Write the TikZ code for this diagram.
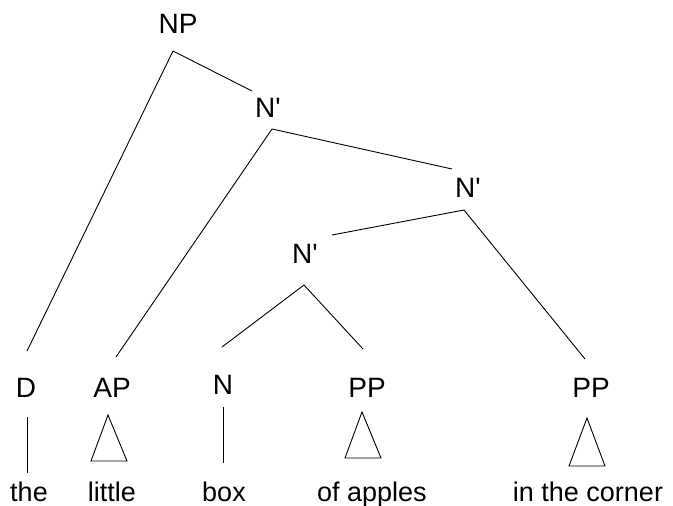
\documentclass[tikz,border=0pt]{standalone}
\usepackage{fontspec}
\setmainfont{Liberation Sans}
\usepackage{tikz}
\usetikzlibrary{positioning}

\begin{document}
\begin{tikzpicture}[
    x=1pt, y=-1pt,
    cat/.style={inner sep=0pt, anchor=base, font=\fontsize{28}{33}\selectfont},
    word/.style={inner sep=0pt, anchor=base, font=\fontsize{27}{32}\selectfont},
    branch/.style={line width=0.9pt},
    roof/.style={line width=0.9pt, line join=miter}
]
\useasboundingbox (0,0) rectangle (673,506);
% phrase labels
\node[cat] (np) at (178,34) {NP};
\node[cat] (nb1) at (268,117) {N\textquotesingle};
\node[cat] (nb2) at (468,197) {N\textquotesingle};
\node[cat] (nb3) at (305,263) {N\textquotesingle};
\node[cat] (d) at (26,397) {D};
\node[cat] (ap) at (112,397) {AP};
\node[cat] (n) at (223,394) {N};
\node[cat] (pp1) at (367,397) {PP};
\node[cat] (pp2) at (591,397) {PP};
% words
\node[word] (the) at (29,501) {the};
\node[word] (little) at (112,501) {little};
\node[word] (box) at (224,501) {box};
\node[word] (ofapples) at (372,501) {of apples};
\node[word] (corner) at (588,501) {in the corner};

\draw[branch] ([xshift=-5pt,yshift=-17pt]np.base) -- ([xshift=1pt,yshift=46pt]d.base);
\draw[branch] ([xshift=-5pt,yshift=-17pt]np.base) -- ([xshift=-16pt,yshift=26pt]nb1.base);
\draw[branch] ([xshift=4pt,yshift=-12pt]nb1.base) -- ([xshift=4pt,yshift=40pt]ap.base);
\draw[branch] ([xshift=4pt,yshift=-12pt]nb1.base) -- ([xshift=-16pt,yshift=28pt]nb2.base);
\draw[branch] ([xshift=-4pt,yshift=-13pt]nb2.base) -- ([xshift=27pt,yshift=28pt]nb3.base);
\draw[branch] ([xshift=-4pt,yshift=-13pt]nb2.base) -- ([xshift=-6pt,yshift=38pt]pp2.base);
\draw[branch] ([xshift=-1pt,yshift=-22pt]nb3.base) -- ([xshift=-1pt,yshift=47pt]n.base);
\draw[branch] ([xshift=-1pt,yshift=-22pt]nb3.base) -- ([xshift=-4pt,yshift=48pt]pp1.base);

% terminals
\draw[branch] ([xshift=1pt,yshift=-20pt]d.base) -- ([xshift=-2pt,yshift=28pt]the.base);
\draw[branch] ([yshift=-13pt]n.base) -- ([xshift=-1pt,yshift=38pt]box.base);
\draw[roof] ([xshift=-4pt,yshift=-18pt]ap.base) -- ++(-17,46) -- ++(36,0) -- cycle;
\draw[roof] ([xshift=-5pt,yshift=-15pt]pp1.base) -- ++(-17,46) -- ++(36,0) -- cycle;
\draw[roof] ([xshift=-4pt,yshift=-21pt]pp2.base) -- ++(-18,48) -- ++(36,0) -- cycle;
\end{tikzpicture}
\end{document}
